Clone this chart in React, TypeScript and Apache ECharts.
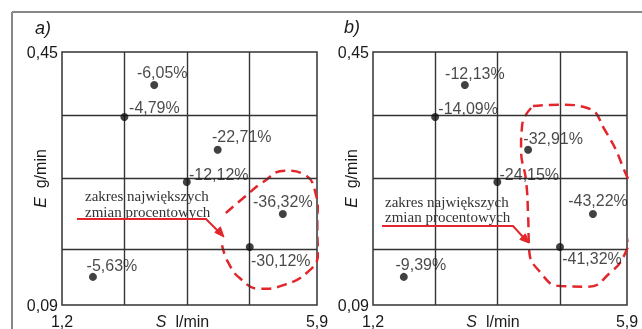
import React, { useEffect, useRef } from "react";
import * as echarts from "echarts";

// grid (design) levels
const S_LEVELS = [2.35, 3.5, 4.66];
const E_LEVELS = [0.1725, 0.265, 0.3575];
const S_TICKS = [1.2, 5.9];
const E_TICKS = [0.09, 0.45];

// design points (S l/min, E g/min)
const sPoints = [2.9, 2.35, 4.07, 3.5, 5.27, 4.66, 1.77];
const ePoints = [0.403, 0.3575, 0.311, 0.265, 0.2195, 0.1725, 0.13];

// percentage changes
const changeA = [-6.05, -4.79, -22.71, -12.12, -36.32, -30.12, -5.63];
const changeB = [-12.13, -14.09, -32.91, -24.15, -43.22, -41.32, -9.39];

// dashed "range" loops in data units
const loopAS = [4.22, 4.57, 4.89, 5.31, 5.68, 5.88, 5.95, 5.92, 5.73, 5.31, 4.85, 4.48, 4.26, 4.15];
const loopAE = [0.221, 0.244, 0.264, 0.281, 0.275, 0.247, 0.204, 0.161, 0.137, 0.119, 0.113, 0.128, 0.151, 0.175];
const loopBS = [4.16, 4.66, 5.18, 5.49, 5.81, 5.99, 5.97, 5.85, 5.59, 5.18, 4.66, 4.29, 4.09, 4.07, 4.03, 3.94, 3.96, 4.16];
const loopBE = [0.373, 0.375, 0.37, 0.339, 0.289, 0.239, 0.197, 0.161, 0.136, 0.116, 0.117, 0.137, 0.168, 0.218, 0.268, 0.311, 0.346, 0.373];

// label offsets (layout only)
const offA = [[8, -13], [30, -10], [24, -13], [32, -8], [0, -12], [31, 13], [19, -11]];
const offB = [[10, -12], [33, -9], [25, -11], [32, -8], [5, -13], [32, 11], [17, -12]];

const SANS = "Liberation Sans, Arial, sans-serif";
const SERIF = "Liberation Serif, Times New Roman, serif";
const GRIDC = "#333";
const RED = "#e2262b";

const fmt = (v: number) => String(v).replace(".", ",");
const fmtPct = (v: number) => v.toFixed(2).replace(".", ",") + "%";

export default function App() {
  const ref = useRef<HTMLDivElement>(null);
  useEffect(() => {
    if (!ref.current) return;
    const chart = echarts.init(ref.current, undefined, { renderer: "svg" });
    const grids = [
      { left: 62, top: 52, width: 255, height: 253 },
      { left: 373, top: 52, width: 254, height: 253 },
    ].map((g) => ({
      ...g,
      show: true,
      borderColor: GRIDC,
      borderWidth: 1.5,
      backgroundColor: "transparent",
      containLabel: false,
      outerBoundsMode: "none",
    }));

    const mkX = (i: number) => ({
      type: "value",
      gridIndex: i,
      min: 1.2,
      max: 5.9,
      axisLine: { show: false },
      axisTick: { show: false },
      splitLine: { show: false },
      axisLabel: {
        customValues: S_TICKS,
        formatter: (v: number) => fmt(v),
        fontSize: 16,
        color: "#1a1a1a",
        fontFamily: SANS,
        margin: 8,
      },
      name: "{i|S}  l/min",
      nameLocation: "middle",
      nameGap: 8,
      nameMoveOverlap: false,
      nameTextStyle: {
        fontSize: 16,
        color: "#1a1a1a",
        fontFamily: SANS,
        padding: [0, 14, 0, 0],
        rich: { i: { fontStyle: "italic", fontSize: 16, fontFamily: SANS, color: "#1a1a1a" } },
      },
    });
    const mkY = (i: number) => ({
      type: "value",
      gridIndex: i,
      min: 0.09,
      max: 0.45,
      axisLine: { show: false },
      axisTick: { show: false },
      splitLine: { show: false },
      axisLabel: {
        customValues: E_TICKS,
        formatter: (v: number) => fmt(v),
        fontSize: 16,
        color: "#1a1a1a",
        fontFamily: SANS,
        margin: 4,
      },
      name: "{i|E}  g/min",
      nameLocation: "middle",
      nameGap: 14,
      nameMoveOverlap: false,
      nameTextStyle: {
        fontSize: 16,
        color: "#1a1a1a",
        fontFamily: SANS,
        rich: { i: { fontStyle: "italic", fontSize: 16, fontFamily: SANS, color: "#1a1a1a" } },
      },
    });

    const gridSeries = (i: number) => ({
      type: "line",
      xAxisIndex: i,
      yAxisIndex: i,
      data: [],
      z: 1,
      silent: true,
      markLine: {
        silent: true,
        symbol: ["none", "none"],
        label: { show: false },
        lineStyle: { color: GRIDC, width: 1.4, type: "solid" },
        data: [
          ...S_LEVELS.map((v) => ({ xAxis: v })),
          ...E_LEVELS.map((v) => ({ yAxis: v })),
        ],
      },
    });

    const pointSeries = (i: number, vals: number[], offs: number[][]) => ({
      type: "scatter",
      xAxisIndex: i,
      yAxisIndex: i,
      z: 5,
      symbolSize: 8,
      itemStyle: { color: "#111" },
      data: sPoints.map((s, k) => ({
        value: [s, ePoints[k], vals[k]],
        label: { offset: offs[k] },
      })),
      label: {
        show: true,
        position: "inside",
        align: "center",
        verticalAlign: "middle",
        formatter: (p: any) => fmtPct(p.value[2]),
        fontSize: 16,
        color: "#1a1a1a",
        fontFamily: SANS,
      },
    });

    const loopSeries = (i: number, xs: number[], ys: number[]) => ({
      type: "line",
      xAxisIndex: i,
      yAxisIndex: i,
      z: 4,
      clip: false,
      smooth: 0.5,
      symbol: "none",
      silent: true,
      lineStyle: { color: RED, width: 2.5, type: [10, 6] },
      data: xs.map((x, k) => [x, ys[k]]),
    });

    const annot = (x: number, y1: number, y2: number) => [
      { type: "text", left: x, top: y1 - 7, style: { text: "zakres największych", fill: "#333", font: "15px " + SERIF, lineHeight: 14 } },
      { type: "text", left: x, top: y2 - 7, style: { text: "zmian procentowych", fill: "#333", font: "15px " + SERIF, lineHeight: 14 } },
    ];
    const arrow = (pts: number[][], head: number[][]) => [
      { type: "polyline", shape: { points: pts }, style: { stroke: RED, lineWidth: 2, fill: "none" }, z: 10 },
      { type: "polygon", shape: { points: head }, style: { fill: RED, stroke: RED, lineWidth: 1 }, z: 10 },
    ];

    chart.setOption({
      animation: false,
      grid: grids,
      xAxis: [mkX(0), mkX(1)],
      yAxis: [mkY(0), mkY(1)],
      series: [
        gridSeries(0),
        gridSeries(1),
        loopSeries(0, loopAS, loopAE),
        loopSeries(1, loopBS, loopBE),
        pointSeries(0, changeA, offA),
        pointSeries(1, changeB, offB),
      ],
      graphic: [
        { type: "line", shape: { x1: 12, y1: 12, x2: 642, y2: 12 }, style: { stroke: "#888", lineWidth: 2 } },
        { type: "line", shape: { x1: 12, y1: 12, x2: 12, y2: 329 }, style: { stroke: "#888", lineWidth: 2 } },
        { type: "text", left: 35, top: 19, style: { text: "a)", fill: "#1a1a1a", font: "italic 18px " + SANS } },
        { type: "text", left: 344, top: 18, style: { text: "b)", fill: "#1a1a1a", font: "italic 18px " + SANS } },
        ...annot(85, 195, 211),
        ...annot(385, 201, 216),
        ...arrow([[77, 219], [206, 219], [219, 232]], [[224, 237], [214.8, 232.4], [220.4, 226.8]]),
        ...arrow([[382, 226], [513, 226], [524, 238]], [[529, 243], [519.8, 239.4], [525.4, 233.8]]),
      ],
    });
    return () => chart.dispose();
  }, []);
  return <div ref={ref} style={{ position: "fixed", left: 0, top: 0, width: 642, height: 329 }} />;
}
